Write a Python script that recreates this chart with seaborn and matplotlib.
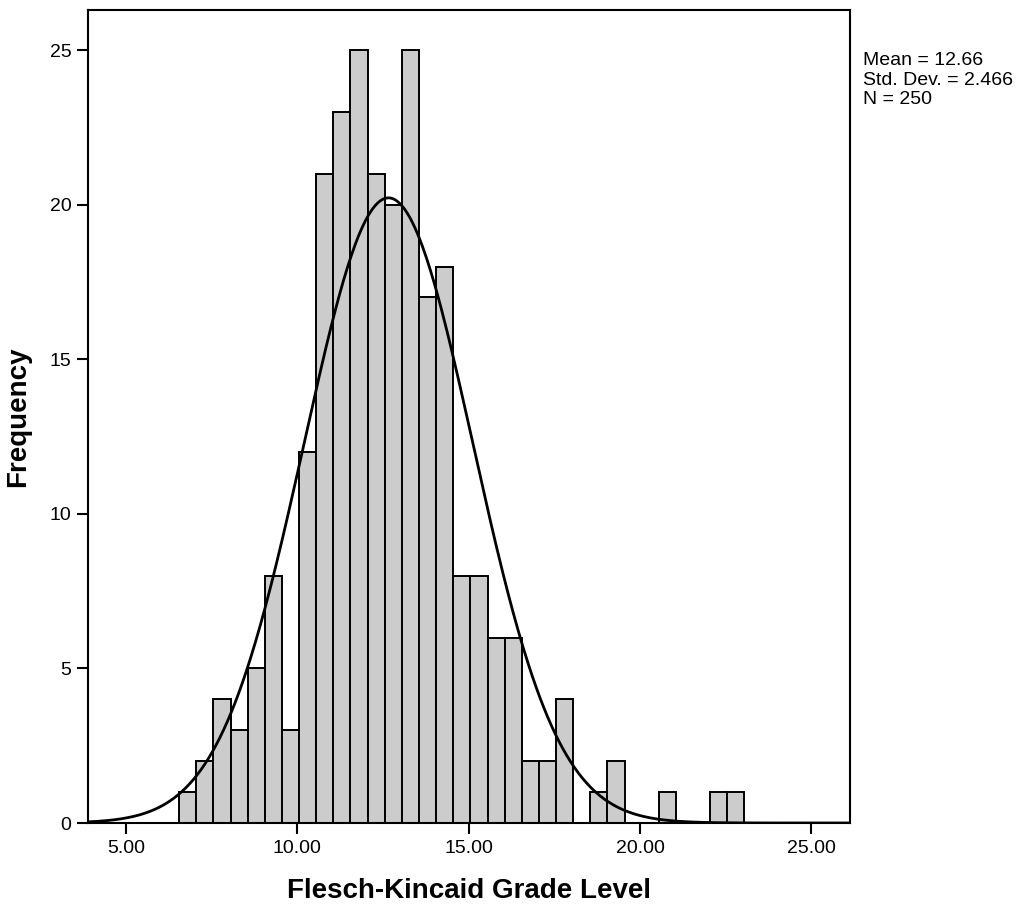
import numpy as np
import pandas as pd
import matplotlib
matplotlib.use("Agg")
import matplotlib.pyplot as plt
import seaborn as sns

# ---- data ----
bin_left = [6.55, 7.05, 7.55, 8.05, 8.55, 9.05, 9.55, 10.05, 10.55, 11.05,
            11.55, 12.05, 12.55, 13.05, 13.55, 14.05, 14.55, 15.05, 15.55, 16.05,
            16.55, 17.05, 17.55, 18.05, 18.55, 19.05, 19.55, 20.05, 20.55, 21.05,
            21.55, 22.05, 22.55]
counts = [1, 2, 4, 3, 5, 8, 3, 12, 21, 23,
          25, 21, 20, 25, 17, 18, 8, 8, 6, 6,
          2, 2, 4, 0, 1, 2, 0, 0, 1, 0,
          0, 1, 1]
bin_width = 0.5
mean_val = 12.66
std_val = 2.466
n_val = 250
x_ticks = [5, 10, 15, 20, 25]
x_tick_labels = ["5.00", "10.00", "15.00", "20.00", "25.00"]
y_ticks = [0, 5, 10, 15, 20, 25]

sns.set_style("white")
plt.rcParams["font.family"] = ["Liberation Sans", "DejaVu Sans"]
plt.rcParams["text.color"] = "black"
plt.rcParams["axes.labelcolor"] = "black"
plt.rcParams["xtick.color"] = "black"
plt.rcParams["ytick.color"] = "black"

df = pd.DataFrame({"center": np.array(bin_left) + bin_width / 2, "count": counts})
edges = list(bin_left) + [bin_left[-1] + bin_width]

fig = plt.figure(figsize=(10.21, 9.05), dpi=100)
ax = fig.add_axes([88 / 1021, 1 - 823 / 905, (850 - 88) / 1021, (823 - 10) / 905])

sns.histplot(data=df, x="center", weights="count", bins=edges, ax=ax,
             color="#cccccc", alpha=1.0, edgecolor="black", linewidth=1.4)

xs = np.linspace(3.9, 26.2, 600)
ys = n_val * bin_width * np.exp(-0.5 * ((xs - mean_val) / std_val) ** 2) / (std_val * np.sqrt(2 * np.pi))
sns.lineplot(x=xs, y=ys, ax=ax, color="black", linewidth=2.0)

ax.set_xlim(3.89, 26.13)
ax.set_ylim(0, 26.3)
ax.set_xticks(x_ticks)
ax.set_xticklabels(x_tick_labels)
ax.set_yticks(y_ticks)
ax.tick_params(axis="both", direction="out", length=8, width=1.5, labelsize=14,
               bottom=True, left=True, pad=4, colors="black")
for s in ax.spines.values():
    s.set_linewidth(1.5)
    s.set_color("black")

ax.set_xlabel("Flesch-Kincaid Grade Level", fontsize=20, fontweight="bold",
              color="black", labelpad=15)
ax.set_ylabel("Frequency", fontsize=20, fontweight="bold",
              color="black", labelpad=13)

fig.text(863 / 1021, 1 - 52 / 905,
         f"Mean = {mean_val:.2f}\nStd. Dev. = {std_val:.3f}\nN = {n_val}",
         fontsize=14, va="top", ha="left", linespacing=1.2, color="black")

fig.savefig("out.png", dpi=100)
